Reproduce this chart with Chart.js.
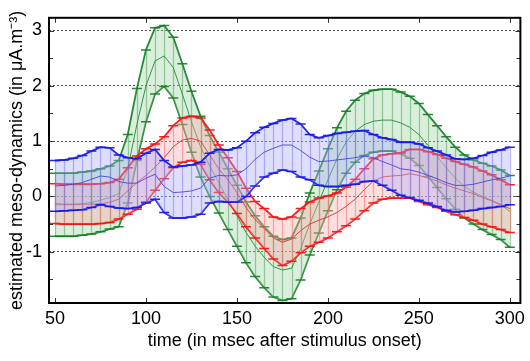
<!DOCTYPE html>
<html>
<head>
<meta charset="utf-8">
<script src="https://cdn.jsdelivr.net/npm/chart.js@4/dist/chart.umd.min.js"></script>
<style>
html,body{margin:0;padding:0;background:#fff;}
#wrap{width:530px;height:361px;}
</style>
</head>
<body>
<div id="wrap"><canvas id="c" width="530" height="361"></canvas></div>
<script>
// ---- data ----
const time = [50,55,60,65,70,75,80,85,90,95,100,105,110,115,120,125,130,135,140,145,150,155,160,165,170,175,180,185,190,195,200,205,210,215,220,225,230,235,240,245,250,255,260,265,270,275,280,285,290,295,300];

const greenMean = [-0.15,-0.15,-0.15,-0.13,-0.11,-0.07,-0.02,0.05,0.5,1.3,2.0,2.45,2.54,2.33,1.85,1.35,0.9,0.55,0.25,-0.05,-0.35,-0.65,-0.9,-1.1,-1.27,-1.33,-1.3,-0.95,-0.5,-0.1,0.3,0.68,0.98,1.18,1.3,1.36,1.38,1.38,1.33,1.25,1.12,0.92,0.72,0.52,0.33,0.18,0.08,0.0,-0.07,-0.15,-0.27];
const greenErr  = [0.57,0.57,0.57,0.57,0.57,0.57,0.57,0.6,0.62,0.65,0.65,0.6,0.55,0.55,0.55,0.55,0.55,0.55,0.55,0.55,0.55,0.55,0.55,0.55,0.55,0.55,0.55,0.56,0.56,0.56,0.56,0.56,0.56,0.56,0.56,0.56,0.56,0.56,0.56,0.56,0.56,0.56,0.56,0.56,0.56,0.57,0.58,0.6,0.62,0.63,0.65];

const redMean = [-0.13,-0.14,-0.14,-0.14,-0.14,-0.13,-0.11,-0.05,0.1,0.25,0.38,0.53,0.7,0.9,1.02,1.05,1.0,0.75,0.5,0.3,0.07,-0.2,-0.42,-0.58,-0.75,-0.83,-0.77,-0.62,-0.5,-0.43,-0.37,-0.29,-0.18,-0.05,0.12,0.28,0.35,0.37,0.38,0.41,0.38,0.33,0.28,0.21,0.15,0.1,0.05,-0.02,-0.08,-0.15,-0.22];
const redErr  = [0.36,0.36,0.36,0.36,0.36,0.36,0.36,0.36,0.42,0.48,0.48,0.42,0.38,0.38,0.4,0.4,0.42,0.45,0.43,0.4,0.38,0.35,0.33,0.36,0.38,0.42,0.4,0.4,0.4,0.4,0.38,0.35,0.35,0.36,0.38,0.4,0.4,0.4,0.41,0.44,0.47,0.48,0.48,0.48,0.48,0.48,0.48,0.48,0.47,0.45,0.43];

const blueMean = [0.19,0.2,0.22,0.25,0.31,0.37,0.35,0.27,0.24,0.24,0.33,0.4,0.18,0.07,0.08,0.1,0.15,0.33,0.38,0.37,0.39,0.5,0.67,0.8,0.87,0.93,0.93,0.83,0.71,0.63,0.64,0.66,0.68,0.7,0.73,0.7,0.63,0.57,0.5,0.48,0.44,0.38,0.32,0.25,0.2,0.2,0.22,0.26,0.3,0.33,0.37];
const blueErr  = [0.46,0.46,0.47,0.49,0.51,0.52,0.53,0.48,0.46,0.44,0.45,0.45,0.47,0.46,0.47,0.47,0.47,0.45,0.47,0.47,0.49,0.5,0.48,0.45,0.45,0.45,0.48,0.48,0.41,0.43,0.46,0.48,0.48,0.48,0.46,0.42,0.43,0.46,0.48,0.5,0.51,0.5,0.5,0.5,0.48,0.47,0.47,0.48,0.5,0.51,0.52];

const xTicks = [50,100,150,200,250,300];
const yTicks = [-1,0,1,2,3];
const yMinorTicks = [-1.5,-0.5,0.5,1.5,2.5];

const xTitle = 'time (in msec after stimulus onset)';
const yTitle = 'estimated meso-dynamics (in \u03bcA.m\u207b\u00b3)';

// ---- styling ----
const FONT = '"Liberation Sans", Arial, Helvetica, sans-serif';
const seriesStyle = [
  {mean: greenMean, err: greenErr, edge:'rgba(20,125,35,0.9)', bar:'rgba(60,150,70,0.45)', fill:'rgba(150,205,155,0.35)', line:'rgba(40,140,50,0.9)'},
  {mean: redMean,   err: redErr,   edge:'rgba(245,20,20,0.95)', bar:'rgba(240,90,90,0.45)', fill:'rgba(250,170,170,0.38)', line:'rgba(225,50,50,0.9)'},
  {mean: blueMean,  err: blueErr,  edge:'rgba(25,25,235,0.95)', bar:'rgba(90,90,240,0.4)', fill:'rgba(170,170,250,0.38)', line:'rgba(70,70,220,0.9)'}
];

const datasets = [];
let ord = 30;
seriesStyle.forEach((s, si) => {
  const lower = time.map((t,i)=>({x:t, y:s.mean[i]-s.err[i]}));
  const upper = time.map((t,i)=>({x:t, y:s.mean[i]+s.err[i]}));
  const mean  = time.map((t,i)=>({x:t, y:s.mean[i]}));
  datasets.push({label:'lo'+si, data:lower, borderColor:s.edge, borderWidth:1.8, pointRadius:0, fill:false, order:ord--, tension:0});
  datasets.push({label:'hi'+si, data:upper, borderColor:s.edge, borderWidth:1.8, pointRadius:0, fill:'-1', backgroundColor:s.fill, order:ord--, tension:0, _series:si});
  datasets.push({label:'mean'+si, data:mean, borderColor:s.line, borderWidth:1, pointRadius:0, fill:false, order:ord--, tension:0});
});

const errorBars = {
  id:'errorBars',
  afterDatasetDraw(chart, args){
    const ds = chart.data.datasets[args.index];
    if (ds._series === undefined) return;
    const s = seriesStyle[ds._series];
    const xs = chart.scales.x, ys = chart.scales.y, ctx = chart.ctx, a = chart.chartArea;
    ctx.save();
    ctx.beginPath(); ctx.rect(a.left, a.top, a.right-a.left, a.bottom-a.top); ctx.clip();
    ctx.lineWidth = 1.3;
    ctx.strokeStyle = s.bar;
    ctx.beginPath();
    time.forEach((t,i)=>{
      const x = Math.round(xs.getPixelForValue(t))+0.5;
      ctx.moveTo(x, ys.getPixelForValue(s.mean[i]-s.err[i]));
      ctx.lineTo(x, ys.getPixelForValue(s.mean[i]+s.err[i]));
    });
    ctx.stroke();
    ctx.strokeStyle = s.edge;
    ctx.lineWidth = 1.5;
    ctx.beginPath();
    time.forEach((t,i)=>{
      const x = xs.getPixelForValue(t);
      [s.mean[i]-s.err[i], s.mean[i]+s.err[i]].forEach(v=>{
        const y = ys.getPixelForValue(v);
        ctx.moveTo(x-5, y); ctx.lineTo(x+5, y);
      });
    });
    ctx.stroke();
    ctx.restore();
  }
};

const frame = {
  id:'frame',
  afterDraw(chart){
    const ctx = chart.ctx, a = chart.chartArea, xs = chart.scales.x, ys = chart.scales.y;
    ctx.save();
    ctx.strokeStyle = '#333';
    ctx.lineWidth = 1;
    ctx.beginPath();
    xTicks.forEach(t=>{
      const x = Math.round(xs.getPixelForValue(t))+0.5;
      ctx.moveTo(x, a.bottom); ctx.lineTo(x, a.bottom-5);
      ctx.moveTo(x, a.top); ctx.lineTo(x, a.top+5);
    });
    yTicks.forEach(v=>{
      const y = Math.round(ys.getPixelForValue(v))+0.5;
      ctx.moveTo(a.left, y); ctx.lineTo(a.left+5, y);
      ctx.moveTo(a.right, y); ctx.lineTo(a.right-5, y);
    });
    yMinorTicks.forEach(v=>{
      const y = Math.round(ys.getPixelForValue(v))+0.5;
      ctx.moveTo(a.left, y); ctx.lineTo(a.left+4, y);
      ctx.moveTo(a.right, y); ctx.lineTo(a.right-4, y);
    });
    ctx.stroke();
    ctx.strokeStyle = '#000';
    ctx.lineWidth = 2;
    ctx.strokeRect(a.left, a.top, a.right-a.left, a.bottom-a.top);
    ctx.restore();
  }
};

new Chart(document.getElementById('c'), {
  type:'line',
  data:{datasets},
  plugins:[errorBars, frame],
  options:{
    responsive:false,
    animation:false,
    devicePixelRatio:1,
    layout:{padding:{top:12, right:7, left:0, bottom:0}},
    plugins:{legend:{display:false}, tooltip:{enabled:false}},
    scales:{
      x:{
        type:'linear', min:46.7, max:305.8,
        afterFit(s){ s.height = 58; },
        afterBuildTicks(s){ s.ticks = xTicks.map(v=>({value:v})); },
        ticks:{font:{family:FONT, size:18}, color:'#000', padding:5, maxRotation:0, autoSkip:false},
        grid:{display:false, drawTicks:false},
        border:{display:false},
        title:{display:true, text:xTitle, font:{family:FONT, size:18}, color:'#000', padding:{top:0, bottom:9}}
      },
      y:{
        type:'linear', min:-1.927, max:3.23,
        afterFit(s){ s.width = 49; },
        afterBuildTicks(s){ s.ticks = yTicks.map(v=>({value:v})); },
        ticks:{font:{family:FONT, size:18}, color:'#000', padding:7, autoSkip:false},
        grid:{color:'#555', lineWidth:1, drawTicks:false},
        border:{display:false, dash:[2,2]},
        title:{display:true, text:yTitle, font:{family:FONT, size:18}, color:'#000', padding:{top:6, bottom:0}}
      }
    }
  }
});
</script>
</body>
</html>
